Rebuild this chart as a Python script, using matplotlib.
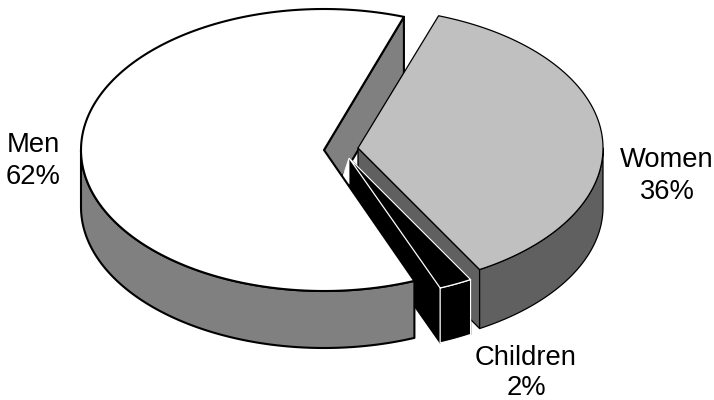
import numpy as np
import matplotlib
matplotlib.use("Agg")
import matplotlib.pyplot as plt
from matplotlib.patches import Polygon

plt.rcParams['font.family'] = ['Liberation Sans', 'DejaVu Sans']

# shares, labels are the rounded ones
names = ["Men", "Children", "Women"]
shares = [61.4, 2.2, 36.4]
pct_labels = ["62%", "2%", "36%"]

start_angle = 70.8

# wedge layout in pixels
centers = {"Men": (324, 150), "Children": (349, 158), "Women": (358, 148)}
radii = {"Men": (243, 141), "Children": (245, 140), "Women": (245, 140)}
depths = {"Men": 57, "Children": 55, "Women": 59}
top_col = {"Men": "white", "Children": "black", "Women": "#c0c0c0"}
side_col = {"Men": "#808080", "Children": "black", "Women": "#606060"}
edge_col = {"Men": "black", "Children": "white", "Women": "black"}
edge_w = {"Men": 1.5, "Children": 0.9, "Women": 0.9}

# angle range of each wedge
spans = {}
a0 = start_angle
for n, s in zip(names, shares):
    spans[n] = (a0, a0 + s * 3.6)
    a0 += s * 3.6


def rim(n, t0, t1):
    cx, cy = centers[n]
    a, b = radii[n]
    t = np.radians(np.linspace(t0, t1, 160))
    return np.column_stack([cx + a * np.cos(t), cy - b * np.sin(t)])


def add(ax, pts, n, z, face=None, edge=None, lw=None):
    ax.add_patch(Polygon(pts, closed=True, facecolor=face or side_col[n],
                         edgecolor=edge or edge_col[n], linewidth=lw or edge_w[n],
                         joinstyle='round', zorder=z))


def cut_face(n, t):
    c = np.array(centers[n], float)
    p = rim(n, t, t)[0]
    d = np.array([0, depths[n]])
    return np.array([c, p, p + d, c + d])


def side_face(n, t0, t1):
    r = rim(n, t0, t1)
    return np.vstack([r, (r + [0, depths[n]])[::-1]])


def top_face(n):
    t0, t1 = spans[n]
    return np.vstack([[centers[n]], rim(n, t0, t1)])


fig = plt.figure(figsize=(7.14, 4), dpi=100)
ax = fig.add_axes([0, 0, 1, 1])
ax.set_xlim(0, 714)
ax.set_ylim(400, 0)
ax.axis('off')

# men, far cut face seen through the gap
add(ax, cut_face("Men", spans["Men"][0]), "Men", 1)

# women
w0, w1 = spans["Women"]
add(ax, cut_face("Women", w0), "Women", 2)
add(ax, side_face("Women", w0, 360), "Women", 3)
add(ax, top_face("Women"), "Women", 4, face=top_col["Women"])

# children, cut faces stay plain black
c0, c1 = spans["Children"]
add(ax, cut_face("Children", c0), "Children", 5, edge="black")
add(ax, cut_face("Children", c1), "Children", 5, edge="black")
add(ax, side_face("Children", c0, c1), "Children", 6)
add(ax, top_face("Children"), "Children", 7, face=top_col["Children"])

# little white notch beside the children apex
cx, cy = centers["Children"]
add(ax, np.array([[cx, cy], [cx, cy + 26], [cx - 6, cy + 18]]), "Children", 8,
    face="white", edge="white", lw=0.6)

# men in front
m0, m1 = spans["Men"]
add(ax, side_face("Men", 180, m1), "Men", 9)
add(ax, top_face("Men"), "Men", 10, face=top_col["Men"])

text_kw = dict(ha='center', va='baseline', fontsize=19.7, color='black')
ax.text(33, 184, names[0] + "\n" + pct_labels[0], linespacing=1.3, **text_kw)
ax.text(667, 199, names[2] + "\n" + pct_labels[2], linespacing=1.28, **text_kw)
ax.text(526, 395, names[1] + "\n" + pct_labels[1], linespacing=1.2, **text_kw)

fig.savefig("out.png", dpi=100)
